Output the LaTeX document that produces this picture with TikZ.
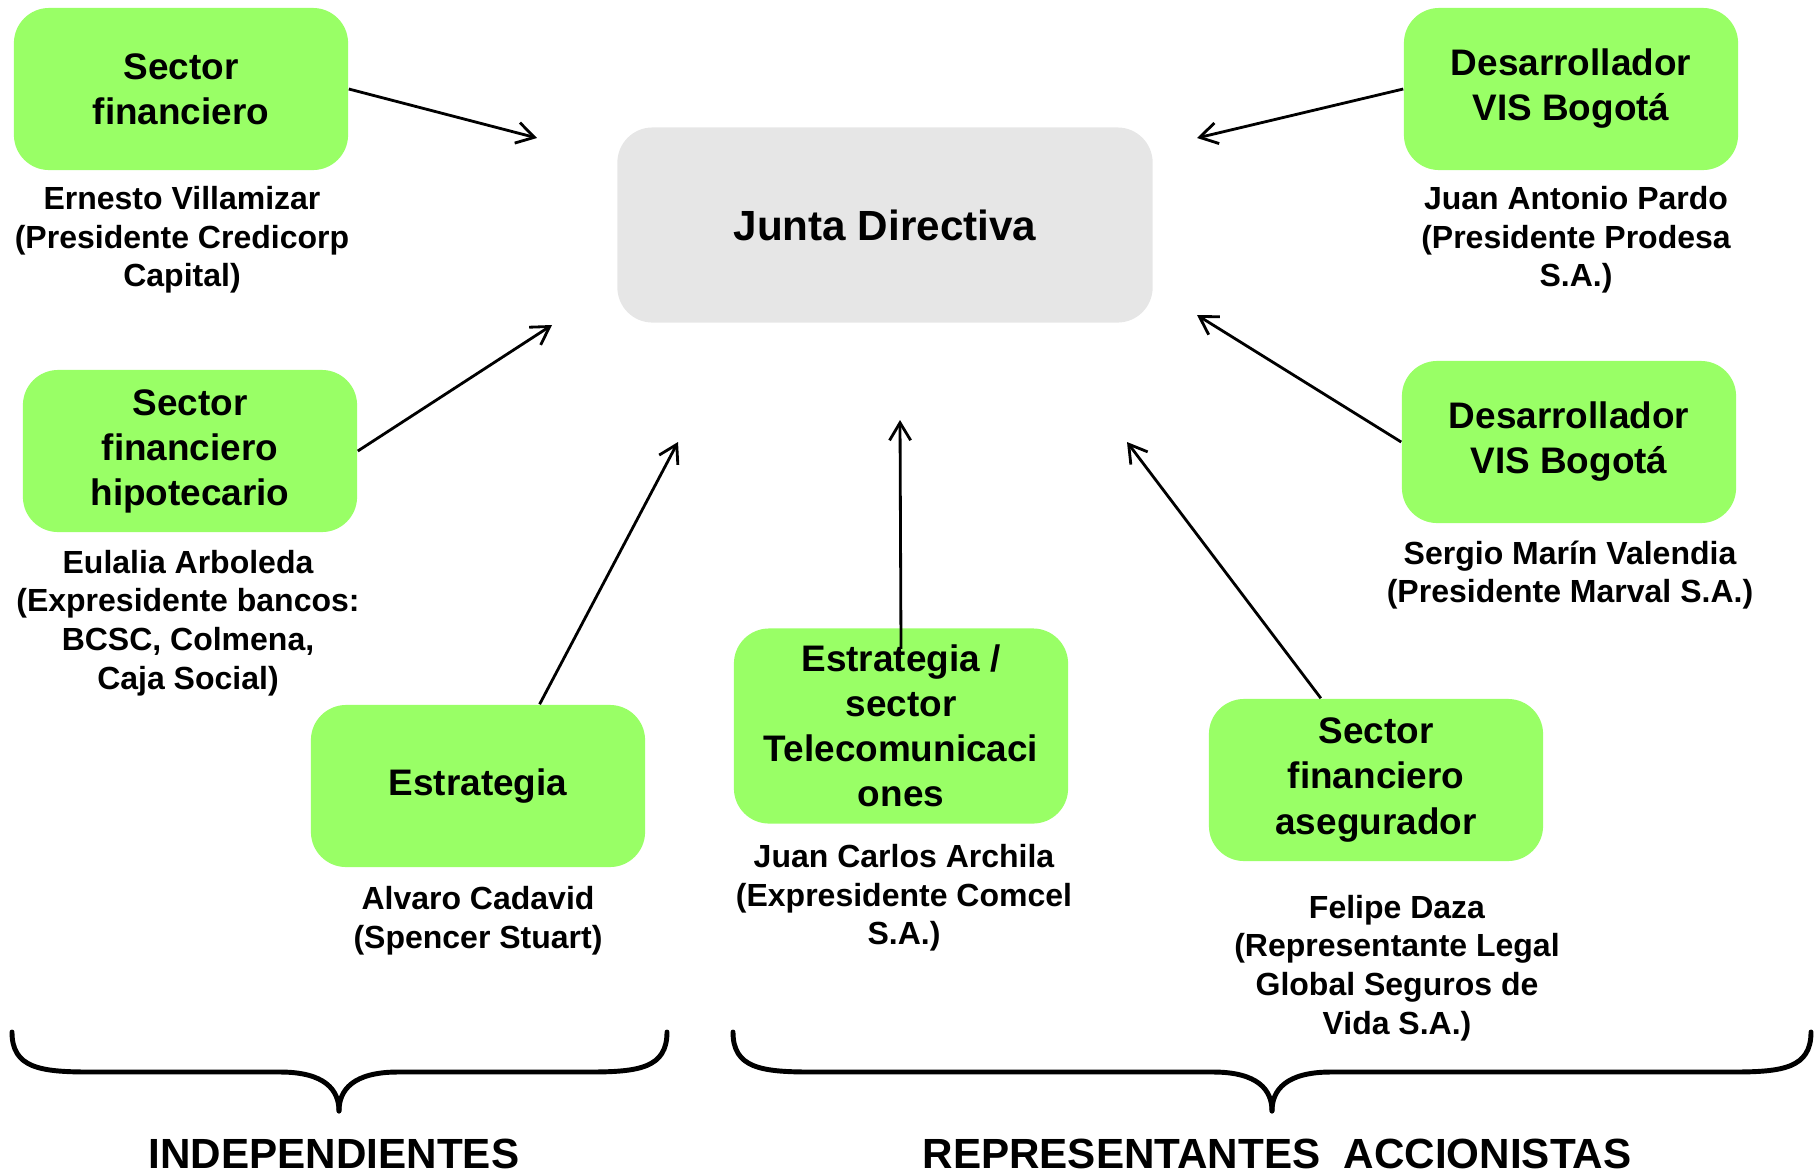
\documentclass[tikz,border=0pt]{standalone}
\usepackage{fontspec}
\setmainfont{Liberation Sans}
\usetikzlibrary{arrows.meta}
\definecolor{verde}{HTML}{99FF66}
\definecolor{gris}{HTML}{E6E6E6}

\begin{document}
\begin{tikzpicture}[x=0.01cm, y=-0.01cm,
  caja/.style={rectangle, rounded corners=10pt, fill=verde, align=center, minimum width=3.34cm, minimum height=1.62cm, font=\fontsize{10.5}{12.8}\selectfont\bfseries},
  nombre/.style={align=center, font=\fontsize{9.1}{11}\selectfont\bfseries},
  flecha/.style={-{Straight Barb[length=5pt, width=6pt]}, line width=0.8pt},
  llave/.style={line width=1.4pt, line cap=round},
  grupo/.style={font=\fontsize{12}{14}\selectfont\bfseries}]
\useasboundingbox (0,0) rectangle (1818,1175);

\node[rectangle, rounded corners=10pt, fill=gris, minimum width=5.35cm, minimum height=1.95cm, font=\fontsize{12}{14}\selectfont\bfseries] (junta) at (885,225) {Junta Directiva};

\node[caja] (finan) at (181,89) {Sector\\financiero};
\node[caja] (desa) at (1571,89) {Desarrollador\\VIS Bogotá};
\node[caja] (hipo) at (190,451) {Sector\\financiero\\hipotecario};
\node[caja] (desb) at (1569,442) {Desarrollador\\VIS Bogotá};
\node[caja] (estr) at (478,786) {Estrategia};
\node[caja, minimum height=1.95cm] (tele) at (901,726) {Estrategia /\\sector\\Telecomunicaci\\ones};
\node[caja] (aseg) at (1376,780) {Sector\\financiero\\asegurador};

\node[nombre] (villa) at (182,240) {Ernesto Villamizar\\(Presidente Credicorp\\Capital)};
\node[nombre] (pardo) at (1576,240) {Juan Antonio Pardo\\(Presidente Prodesa\\S.A.)};
\node[nombre] (arbo) at (188,623) {Eulalia Arboleda\\(Expresidente bancos:\\BCSC, Colmena,\\Caja Social)};
\node[nombre] (marin) at (1570,575) {Sergio Marín Valendia\\(Presidente Marval S.A.)};
\node[nombre] (cada) at (478,921) {Alvaro Cadavid\\(Spencer Stuart)};
\node[nombre] (archi) at (904,898) {Juan Carlos Archila\\(Expresidente Comcel\\S.A.)};
\node[nombre] (daza) at (1397,968) {Felipe Daza\\(Representante Legal\\Global Seguros de\\Vida S.A.)};

\coordinate (p1) at (537,138);
\coordinate (p2) at (552,325);
\coordinate (p3) at (678,442);
\coordinate (p4) at (900,420);
\coordinate (p5) at (1127,442);
\coordinate (p6) at (1197,315);
\coordinate (p7) at (1197,138);

\draw[flecha] (finan.east) -- (p1);
\draw[flecha] (hipo.east) -- (p2);
\draw[flecha] (estr.53) -- (p3);
\draw[flecha] ([yshift=-0.21cm]tele.north) -- (p4);
\draw[flecha] (aseg.124) -- (p5);
\draw[flecha] (desb.west) -- (p6);
\draw[flecha] (desa.west) -- (p7);

\draw[llave] (12,1032) .. controls (12,1068) and (40,1072) .. (90,1072) -- (280,1072) .. controls (325,1072) and (339,1090) .. (339,1111);
\draw[llave] (667,1032) .. controls (667,1068) and (639,1072) .. (589,1072) -- (398,1072) .. controls (353,1072) and (339,1090) .. (339,1111);
\draw[llave] (733,1032) .. controls (733,1068) and (761,1072) .. (811,1072) -- (1213,1072) .. controls (1258,1072) and (1272,1090) .. (1272,1111);
\draw[llave] (1811,1032) .. controls (1811,1068) and (1783,1072) .. (1733,1072) -- (1331,1072) .. controls (1286,1072) and (1272,1090) .. (1272,1111);

\node[grupo] (indep) at (334,1154) {INDEPENDIENTES};
\node[grupo] (accio) at (1277,1154) {REPRESENTANTES\ \ ACCIONISTAS};
\end{tikzpicture}
\end{document}
